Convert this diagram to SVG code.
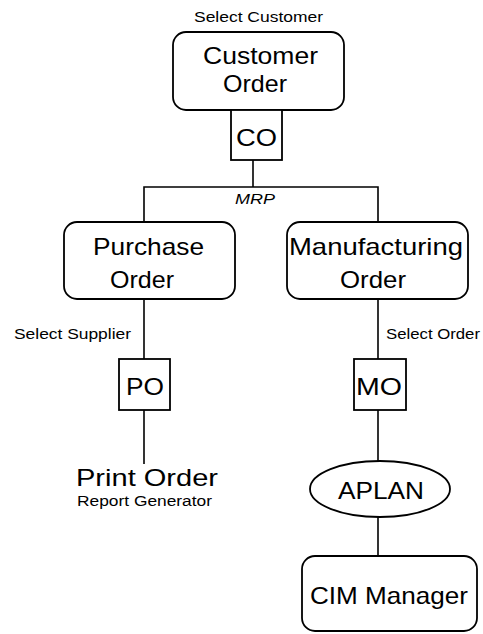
<svg xmlns="http://www.w3.org/2000/svg" width="483" height="634" viewBox="0 0 483 634">
<style>
text{font-family:"Liberation Sans",Arial,sans-serif;fill:#000}
.big{font-size:24px}
.sm{font-size:14px}
.box{fill:#fff;stroke:#000;stroke-width:1.8}
.ln{stroke:#000;stroke-width:1.6;fill:none}
</style>
<rect width="483" height="634" fill="#fff"/>
<g id="connectors">
<line class="ln" x1="253" y1="160" x2="253" y2="187"/>
<polyline class="ln" points="144,222 144,187 378,187 378,222"/>
<line class="ln" x1="144" y1="299" x2="144" y2="359"/>
<line class="ln" x1="144" y1="410" x2="144" y2="464"/>
<line class="ln" x1="378" y1="299" x2="378" y2="359"/>
<line class="ln" x1="378" y1="410" x2="378" y2="461"/>
<line class="ln" x1="378" y1="517" x2="378" y2="556"/>
<text class="sm" x="235" y="204" font-style="italic" font-size="13" textLength="40" lengthAdjust="spacingAndGlyphs">MRP</text>
<text class="sm" x="14" y="339" textLength="117" lengthAdjust="spacingAndGlyphs">Select Supplier</text>
<text class="sm" x="386" y="339" textLength="94" lengthAdjust="spacingAndGlyphs">Select Order</text>
</g>
<g id="customer-order">
<text class="sm" x="194" y="22" textLength="129" lengthAdjust="spacingAndGlyphs">Select Customer</text>
<rect class="box" x="173" y="32" width="171" height="78" rx="13"/>
<text class="big" x="203" y="64" textLength="115" lengthAdjust="spacingAndGlyphs">Customer</text>
<text class="big" x="223" y="92" textLength="64" lengthAdjust="spacingAndGlyphs">Order</text>
</g>
<g id="co">
<rect class="box" x="231" y="110" width="51" height="50"/>
<text class="big" x="236" y="146" font-size="22" textLength="41" lengthAdjust="spacingAndGlyphs">CO</text>
</g>
<g id="purchase-order">
<rect class="box" x="64" y="222" width="171" height="77" rx="13"/>
<text class="big" x="93" y="255" textLength="111" lengthAdjust="spacingAndGlyphs">Purchase</text>
<text class="big" x="110" y="288" textLength="64" lengthAdjust="spacingAndGlyphs">Order</text>
</g>
<g id="manufacturing-order">
<rect class="box" x="287" y="222" width="181" height="77" rx="13"/>
<text class="big" x="289" y="255" textLength="174" lengthAdjust="spacingAndGlyphs">Manufacturing</text>
<text class="big" x="340" y="288" textLength="66" lengthAdjust="spacingAndGlyphs">Order</text>
</g>
<g id="po">
<rect class="box" x="119" y="359" width="51" height="51"/>
<text class="big" x="126" y="395" font-size="22" textLength="38" lengthAdjust="spacingAndGlyphs">PO</text>
</g>
<g id="mo">
<rect class="box" x="354" y="359" width="52" height="51"/>
<text class="big" x="356" y="395" font-size="22" textLength="46" lengthAdjust="spacingAndGlyphs">MO</text>
</g>
<g id="print-order">
<text class="big" x="76" y="486" textLength="142" lengthAdjust="spacingAndGlyphs">Print Order</text>
<text class="sm" x="77" y="506" textLength="135" lengthAdjust="spacingAndGlyphs">Report Generator</text>
</g>
<g id="aplan">
<ellipse class="box" cx="380" cy="489" rx="70" ry="28"/>
<text class="big" x="338" y="499" font-size="23" textLength="86" lengthAdjust="spacingAndGlyphs">APLAN</text>
</g>
<g id="cim-manager">
<rect class="box" x="302" y="556" width="175" height="75" rx="13"/>
<text class="big" x="310" y="604" textLength="158" lengthAdjust="spacingAndGlyphs">CIM Manager</text>
</g>
</svg>
